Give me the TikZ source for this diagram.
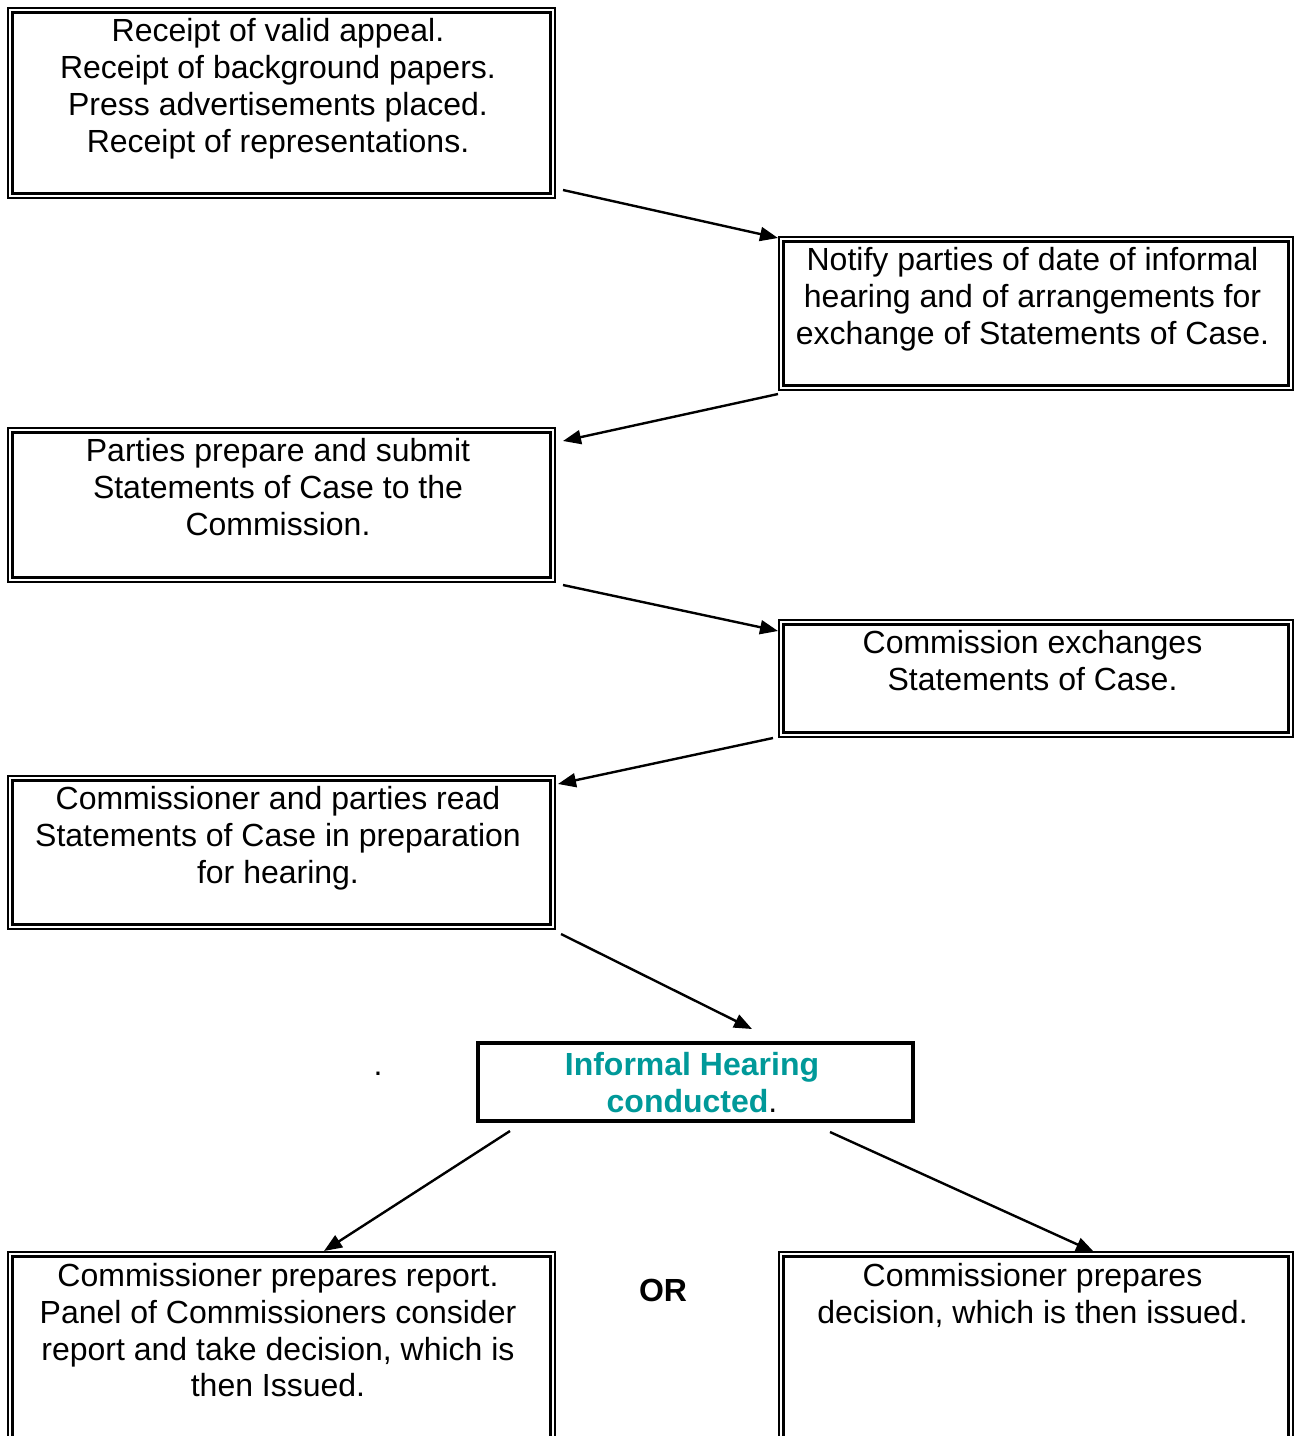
\documentclass[tikz,border=0pt]{standalone}
\usepackage{fontspec}
\setmainfont{Liberation Sans}
\usetikzlibrary{arrows.meta}
\definecolor{tealtxt}{RGB}{0,153,153}
\tikzset{
  box/.style={draw=none, inner sep=0pt, outer sep=0pt, rectangle},
  boxtext/.style={anchor=north, inner sep=0pt, align=center, font=\fontsize{32}{36.8}\selectfont},
  outerline/.style={line width=1.8pt},
  innerline/.style={line width=3.2pt},
  conn/.style={line width=2.4pt, -{Triangle[length=18pt,width=14pt]}, shorten >=0pt},
}
\newcommand{\dblbox}[1]{%
  \draw[outerline] (#1.north west) rectangle (#1.south east);
  \draw[innerline] ([shift={(4.5,4.5)}]#1.north west) rectangle ([shift={(-4.5,-4.5)}]#1.south east);
}
\begin{document}
\begin{tikzpicture}[x=1pt,y=-1pt]
\useasboundingbox (0,0) rectangle (1302,1436);
\clip (0,0) rectangle (1302,1436);
\fill[white] (0,0) rectangle (1302,1436);

% boxes
\node[box, minimum width=547pt, minimum height=190pt] (b1) at (281.5,103) {};
\node[box, minimum width=514pt, minimum height=153pt] (b2) at (1036,313.5) {};
\node[box, minimum width=547pt, minimum height=154pt] (b3) at (281.5,505) {};
\node[box, minimum width=514pt, minimum height=117pt] (b4) at (1036,678.5) {};
\node[box, minimum width=547pt, minimum height=153pt] (b5) at (281.5,852.5) {};
\node[box, minimum width=435pt, minimum height=78pt] (b6) at (695.5,1082) {};
\node[box, minimum width=547pt, minimum height=208pt] (b7) at (281.5,1356) {};
\node[box, minimum width=514pt, minimum height=208pt] (b8) at (1036,1356) {};

\dblbox{b1}\dblbox{b2}\dblbox{b3}\dblbox{b4}\dblbox{b5}\dblbox{b7}\dblbox{b8}
\draw[line width=4pt] (b6.north west) rectangle (b6.south east);

% texts
\node[boxtext] (t1) at ([shift={(-3.5,8)}]b1.north) {\strut Receipt of valid appeal.\\Receipt of background papers.\\Press advertisements placed.\\Receipt of representations.};
\node[boxtext] (t2) at ([shift={(-3.5,8)}]b2.north) {\strut Notify parties of date of informal\\hearing and of arrangements for\\exchange of Statements of Case.};
\node[boxtext] (t3) at ([shift={(-3.5,8)}]b3.north) {\strut Parties prepare and submit\\Statements of Case to the\\Commission.};
\node[boxtext] (t4) at ([shift={(-3.5,8)}]b4.north) {\strut Commission exchanges\\Statements of Case.};
\node[boxtext] (t5) at ([shift={(-3.5,8)}]b5.north) {\strut Commissioner and parties read\\Statements of Case in preparation\\for hearing.};
\node[boxtext] (t6) at ([shift={(-3.5,6.8)}]b6.north) {\strut\textcolor{tealtxt}{\bfseries Informal Hearing}\\\textcolor{tealtxt}{\bfseries conducted}.};
\node[boxtext] (t7) at ([shift={(-3.5,8.5)}]b7.north) {\strut Commissioner prepares report.\\Panel of Commissioners consider\\report and take decision, which is\\then Issued.};
\node[boxtext] (t8) at ([shift={(-3.5,8.5)}]b8.north) {\strut Commissioner prepares\\decision, which is then issued.};

\node[inner sep=0pt, font=\fontsize{32}{36.8}\selectfont\bfseries] (or) at (663,1290) {OR};
\node[inner sep=0pt, font=\fontsize{32}{36.8}\selectfont, anchor=base] (dot) at (378,1075) {.};

% connectors
\draw[conn] ([shift={(8,-8)}]b1.south east) -- ([shift={(-1,1)}]b2.north west);
\draw[conn] ([shift={(-1,4)}]b2.south west) -- ([shift={(8,13)}]b3.north east);
\draw[conn] ([shift={(8,3)}]b3.south east) -- ([shift={(-1,11)}]b4.north west);
\draw[conn] ([shift={(-6,1)}]b4.south west) -- ([shift={(3,8)}]b5.north east);
\draw[conn] ([shift={(6,5)}]b5.south east) -- ([shift={(56.5,-14)}]b6.north);
\draw[conn] ([shift={(32,10)}]b6.south west) -- ([shift={(42.5,-1)}]b7.north);
\draw[conn] ([shift={(-83,11)}]b6.south east) -- ([shift={(58,0)}]b8.north);
\end{tikzpicture}
\end{document}
